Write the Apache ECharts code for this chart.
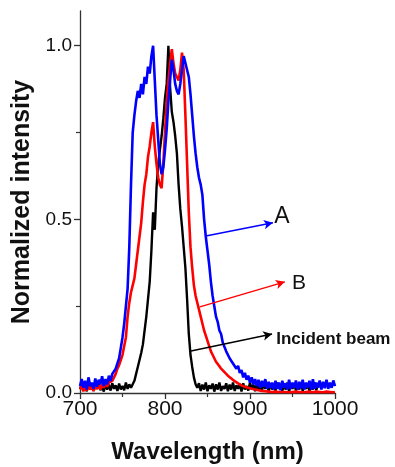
<!DOCTYPE html>
<html><head><meta charset="utf-8">
<script src="https://cdn.jsdelivr.net/npm/echarts@6/dist/echarts.min.js"></script>
<style>html,body{margin:0;padding:0;background:#fff}#c{width:395px;height:467px}</style>
</head><body><div id="c"></div>
<script>
// Wavelength samples (nm)
const wavelengths = [700,702,704,706,708,710,712,714,716,718,720,722,724,726,728,730,732,734,736,738,740,742,744,746,748,750,752,754,756,758,760,762,764,766,768,770,772,774,776,778,780,782,784,786,788,790,792,794,796,798,800,802,804,806,808,810,812,814,816,818,820,822,824,826,828,830,832,834,836,838,840,842,844,846,848,850,852,854,856,858,860,862,864,866,868,870,872,874,876,878,880,882,884,886,888,890,892,894,896,898,900,902,904,906,908,910,912,914,916,918,920,922,924,926,928,930,932,934,936,938,940,942,944,946,948,950,952,954,956,958,960,962,964,966,968,970,972,974,976,978,980,982,984,986,988,990,992,994,996,998,1000];

// Curve A (blue)
const curveA = [0.02,0.04,0.015,0.035,0.01,0.045,0.02,0.03,0.012,0.042,0.018,0.038,0.025,0.048,0.02,
0.04,0.025,0.05,0.035,0.055,0.05,0.07,0.075,0.1,0.13,0.16,0.2,0.25,
0.3,0.42,0.6,0.75,0.8,0.84,0.87,0.85,0.89,0.86,0.91,0.89,0.94,0.92,0.97,1.0,0.9,0.8,0.73,0.66,0.63,0.65,
0.7,0.76,0.84,0.9,0.96,0.93,0.89,0.87,0.86,0.89,0.93,0.97,0.97,0.93,0.91,0.86,0.8,0.74,0.69,0.65,
0.62,0.6,0.57,0.5,0.45,0.41,0.37,0.32,0.28,0.25,0.22,0.205,0.18,0.17,0.145,0.145,0.12,0.125,0.1,0.105,
0.085,0.09,0.07,0.078,0.058,0.066,0.045,0.058,0.038,0.05,0.03,0.045,0.025,0.04,0.02,0.038,
0.015,0.035,0.018,0.04,0.012,0.032,0.015,0.03,0.01,0.035,0.012,0.03,0.008,0.035,0.015,0.028,0.01,0.038,0.012,0.03,
0.015,0.036,0.01,0.032,0.014,0.038,0.01,0.03,0.016,0.035,0.01,0.04,0.012,0.03,0.015,0.036,0.01,0.032,0.014,0.038,
0.012,0.03,0.015,0.036,0.02];

// Curve B (red)
const curveB = [0.01,0.02,0.005,0.015,0.008,0.02,0.01,0.018,0.006,0.02,0.012,0.022,0.01,0.025,0.015,0.028,0.018,0.03,
0.03,0.035,0.04,0.055,0.07,0.08,0.095,0.11,0.135,0.16,0.22,0.26,0.29,0.31,0.33,0.37,0.41,0.45,0.49,0.55,0.6,0.63,
0.68,0.71,0.75,0.78,0.71,0.66,0.62,0.6,0.59,0.66,0.75,0.84,0.9,0.95,0.99,0.95,0.92,0.91,0.9,0.93,
0.98,0.93,0.8,0.66,0.52,0.42,0.36,0.31,0.28,0.26,0.24,0.22,0.2,0.18,0.165,0.15,0.135,0.12,0.11,0.1,
0.09,0.085,0.077,0.07,0.065,0.06,0.055,0.05,0.047,0.042,0.038,0.034,0.03,0.028,0.025,0.022,0.02,0.018,0.016,0.015,
0.013,0.012,0.011,0.01,0.009,0.008,
0.008,0.006,0.007,0.005,0.006,0.004,0.005,0.003,0.005,0.004,0.004,0.003,0.005,0.003,0.004,0.003,0.004,0.002,0.004,0.003,
0.003,0.004,0.002,0.003,0.004,0.002,0.003,0.003,0.002,0.004,0.003,0.002,0.003,0.004,0.002,0.003,0.003,0.002,0.003,0.004,
0.002,0.003,0.003,0.002,0.003];

// Incident beam (black)
const incident = [0.012,0.025,0.008,0.02,0.005,0.028,0.01,0.022,0.006,0.025,0.012,0.03,0.008,0.02,0.004,0.026,0.01,0.024,0.007,0.028,
0.012,0.022,0.006,0.027,0.01,0.02,0.008,0.03,0.012,0.025,0.015,
0.02,0.035,0.055,0.075,0.095,0.115,0.14,0.18,0.22,0.27,0.32,0.41,0.52,0.47,0.59,0.66,0.7,0.74,0.79,
0.85,0.89,1.0,0.88,0.81,0.78,0.74,0.69,0.6,0.53,0.48,0.42,0.36,0.27,0.17,0.11,0.075,0.045,0.025,
0.015,0.028,0.006,0.024,0.01,0.03,0.005,0.022,0.012,0.027,0.004,0.025,0.01,0.03,0.006,0.02,0.012,0.028,0.005,0.024,
0.01,0.03,0.006,0.022,0.012,0.026,0.004,0.028,0.01,0.02,0.007,0.03,0.012,0.024,0.005,0.027,0.01,0.022,0.006,0.03,
0.012,0.025,0.005,0.028,0.01,0.022,0.007,0.03,0.012,0.024,0.006,0.026,0.01,0.03,0.005,0.022,0.012,0.028,0.007,0.025,
0.01,0.03,0.006,0.024,0.012,0.027,0.005,0.022,0.01,0.03,0.008,0.026];

const xTickValues = [700, 800, 900, 1000];
const yTickValues = [0, 0.5, 1.0];
const yMinorValues = [0.25, 0.75];

// Annotation arrows (data coords: [start, tip]) and label anchors
const arrowA = [[848, 0.452], [927, 0.49]];
const arrowB = [[841, 0.248], [941, 0.32]];
const arrowI = [[830.6, 0.121], [926, 0.17]];
const labelA = [928.5, 0.507];
const labelB = [949.5, 0.316];
const labelI = [930.8, 0.156];

const FONT = '"Liberation Sans", Arial, Helvetica, sans-serif';
const chart = echarts.init(document.getElementById('c'), null, {renderer: 'canvas'});

function pairs(ys) { return wavelengths.map((w, i) => [w, ys[i]]); }
function arrowLine(a, color) {
  return {
    silent: true, animation: false,
    symbol: ['none', 'arrow'], symbolSize: [7, 9],
    lineStyle: {color: color, width: 1.5, type: 'solid'},
    label: {show: false},
    emphasis: {disabled: true},
    data: [[{coord: a[0]}, {coord: a[1]}]]
  };
}

const axisColor = '#333';
const option = {
  animation: false,
  backgroundColor: '#fff',
  grid: {left: 80, right: 60, top: 11, bottom: 74, containLabel: false, outerBoundsMode: 'none'},
  xAxis: {
    type: 'value', min: 700, max: 1000, interval: 100,
    axisLine: {lineStyle: {color: axisColor, width: 1.3}},
    axisTick: {length: 6, lineStyle: {color: axisColor, width: 1.3}, customValues: xTickValues},
    minorTick: {show: true, splitNumber: 2, length: 4, lineStyle: {color: axisColor, width: 1.2}},
    splitLine: {show: false}, minorSplitLine: {show: false},
    axisLabel: {fontSize: 21, color: '#111', fontFamily: FONT, margin: 6, customValues: xTickValues,
      formatter: v => String(Math.round(v))},
    name: 'Wavelength (nm)', nameLocation: 'middle', nameGap: 47,
    nameTextStyle: {fontSize: 24, fontWeight: 'bold', color: '#111', fontFamily: FONT}
  },
  yAxis: [{
    type: 'value', min: 0, max: 1.1,
    axisLine: {show: true, lineStyle: {color: axisColor, width: 1.3}},
    axisTick: {show: true, length: 6, lineStyle: {color: axisColor, width: 1.3}, customValues: yTickValues},
    splitLine: {show: false},
    axisLabel: {fontSize: 19, color: '#111', fontFamily: FONT, margin: 8, customValues: yTickValues,
      formatter: v => Number(v).toFixed(1)},
    name: 'Normalized intensity', nameLocation: 'middle', nameGap: 41, nameRotate: 90,
    nameTextStyle: {fontSize: 25, fontWeight: 'bold', color: '#111', fontFamily: FONT}
  }, {
    type: 'value', min: 0, max: 1.1, position: 'left', offset: 0,
    axisLine: {show: false},
    axisTick: {show: true, length: 4, lineStyle: {color: axisColor, width: 1.2}, customValues: yMinorValues},
    axisLabel: {show: false}, splitLine: {show: false}
  }],
  series: [
    {name: 'Incident beam', type: 'line', data: pairs(incident), showSymbol: false, symbol: 'none',
      lineStyle: {color: '#000', width: 2.4}, itemStyle: {color: '#000'}, markLine: arrowLine(arrowI, '#000')},
    {name: 'B', type: 'line', data: pairs(curveB), showSymbol: false, symbol: 'none',
      lineStyle: {color: '#ff0000', width: 2.6}, itemStyle: {color: '#ff0000'}, markLine: arrowLine(arrowB, '#ff0000')},
    {name: 'A', type: 'line', data: pairs(curveA), showSymbol: false, symbol: 'none',
      lineStyle: {color: '#0000ff', width: 2.6}, itemStyle: {color: '#0000ff'}, markLine: arrowLine(arrowA, '#0000ff')}
  ]
};
chart.setOption(option);

function textAt(pt, txt, size, weight) {
  const p = chart.convertToPixel({gridIndex: 0}, pt);
  return {type: 'text', x: p[0], y: p[1], silent: true,
    style: {text: txt, font: weight + ' ' + size + 'px ' + FONT, fill: '#111', align: 'left', verticalAlign: 'middle'}};
}
chart.setOption({graphic: [
  textAt(labelA, 'A', 23, 'normal'),
  textAt(labelB, 'B', 21, 'normal'),
  textAt(labelI, 'Incident beam', 17, 'bold')
]});
</script></body></html>
